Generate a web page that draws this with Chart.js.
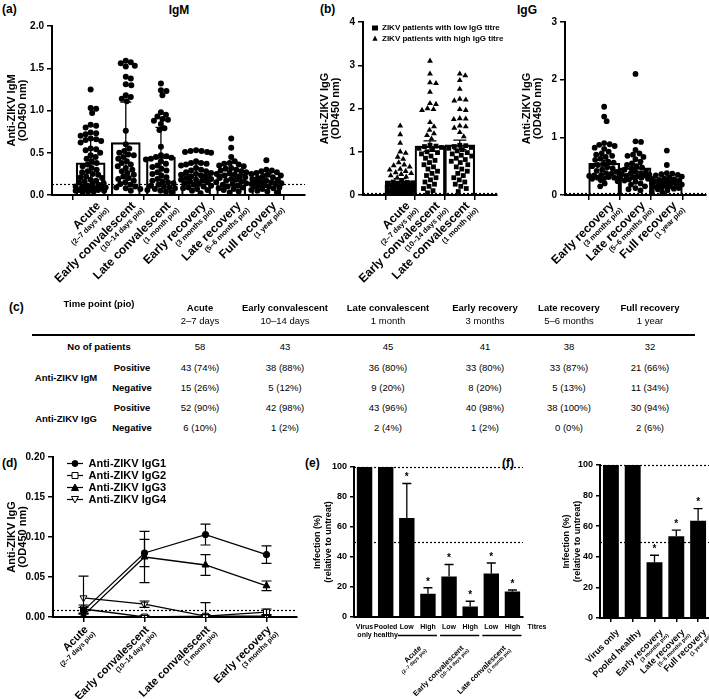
<!DOCTYPE html>
<html><head><meta charset="utf-8">
<script src="https://cdn.jsdelivr.net/npm/chart.js@4.4.1/dist/chart.umd.min.js"></script>
<style>
html,body{margin:0;padding:0;background:#fff}
body{position:relative;width:709px;height:699px;overflow:hidden;font-family:"Liberation Sans",Arial,sans-serif;color:#000}
canvas{position:absolute}
.t{position:absolute;white-space:nowrap;line-height:1}
.b{font-weight:bold}
.c{transform:translate(-50%,-50%)}
</style></head><body>
<div class="t b" style="left:2px;top:3px;font-size:12px">(a)</div>
<div class="t b c" style="left:179px;top:10px;font-size:12px">IgM</div>
<div class="t b" style="left:320px;top:3px;font-size:12px">(b)</div>
<div class="t b c" style="left:527px;top:10px;font-size:12px">IgG</div>
<div class="t b" style="left:9px;top:301px;font-size:12px">(c)</div>
<div class="t b" style="left:2px;top:457px;font-size:12px">(d)</div>
<div class="t b" style="left:305px;top:457px;font-size:12px">(e)</div>
<div class="t b" style="left:502px;top:457px;font-size:12px">(f)</div>
<script>
// ===================== DATA =====================
// (a) IgM
const igmCategories = [['Acute','(2–7 days pio)'],['Early convalescent','(10–14 days pio)'],['Late convalescent','(1 month pio)'],['Early recovery','(3 months pio)'],['Late recovery','(5–6 months pio)'],['Full recovery','(1 year pio)']];
const igmAcute = [1.25,1.03,1.02,0.97,0.83,0.82,0.80,0.74,0.73,0.72,0.70,0.67,0.66,0.65,0.64,0.62,0.55,0.54,0.53,0.50,0.47,0.45,0.43,0.40,0.38,0.36,0.34,0.32,0.30,0.28,0.27,0.25,0.24,0.22,0.21,0.20,0.18,0.17,0.16,0.15,0.14,0.13,0.12,0.11,0.10,0.10,0.09,0.08,0.08,0.07,0.07,0.06,0.06,0.05,0.05,0.04,0.04,0.03];
const igmEarlyConv = [1.59,1.57,1.56,1.53,1.52,1.40,1.38,1.31,1.30,1.18,1.16,1.14,1.11,0.76,0.60,0.55,0.52,0.50,0.48,0.47,0.45,0.43,0.40,0.38,0.36,0.34,0.32,0.30,0.28,0.26,0.24,0.22,0.20,0.19,0.17,0.15,0.13,0.12,0.10,0.09,0.08,0.07,0.05];
const igmLateConv = [1.32,1.24,1.23,1.18,0.98,0.95,0.93,0.90,0.89,0.88,0.84,0.79,0.77,0.57,0.47,0.46,0.45,0.44,0.43,0.42,0.40,0.37,0.35,0.33,0.31,0.29,0.27,0.25,0.23,0.21,0.19,0.17,0.16,0.15,0.14,0.12,0.11,0.10,0.09,0.08,0.07,0.06,0.05,0.04,0.03];
const igmEarlyRec = [0.53,0.52,0.52,0.51,0.51,0.50,0.40,0.38,0.38,0.37,0.36,0.35,0.32,0.30,0.29,0.28,0.27,0.26,0.25,0.24,0.23,0.22,0.21,0.20,0.19,0.18,0.18,0.17,0.16,0.15,0.14,0.13,0.12,0.11,0.10,0.09,0.08,0.07,0.06,0.05,0.02];
const igmLateRec = [0.67,0.56,0.45,0.40,0.38,0.37,0.36,0.35,0.34,0.32,0.31,0.30,0.29,0.28,0.27,0.26,0.25,0.24,0.23,0.22,0.21,0.20,0.19,0.18,0.17,0.16,0.15,0.14,0.13,0.12,0.11,0.10,0.09,0.08,0.07,0.06,0.04,0.03];
const igmFullRec = [0.41,0.30,0.29,0.28,0.27,0.26,0.25,0.24,0.23,0.22,0.21,0.20,0.19,0.18,0.17,0.16,0.15,0.15,0.14,0.13,0.13,0.12,0.11,0.10,0.10,0.09,0.08,0.07,0.06,0.05,0.04,0.03];
const igmMeans = [0.38,0.62,0.45,0.25,0.25,0.17];
const igmSD = [0.28,0.48,0.35,0.12,0.13,0.08];
const igmCutoff = 0.13;

// (b) IgG, early time points (low / high titre)
const iggEarlyCategories = [['Acute','(2–7 days pio)'],['Early convalescent','(10–14 days pio)'],['Late convalescent','(1 month pio)']];
const iggAcuteLow = [0.32,0.30,0.29,0.28,0.27,0.26,0.25,0.24,0.23,0.22,0.21,0.20,0.19,0.18,0.17,0.16,0.15,0.14,0.13,0.12,0.12,0.11,0.10,0.10,0.09,0.09,0.08,0.08,0.07,0.07,0.06,0.06,0.05,0.05,0.04,0.04,0.03,0.02];
const iggAcuteHigh = [1.60,1.40,1.20,1.00,0.97,0.88,0.83,0.75,0.70,0.68,0.65,0.60,0.58,0.55,0.52,0.50,0.48,0.45,0.42,0.40];
const iggEarlyConvLow = [1.15,1.13,1.12,1.10,1.08,1.05,1.00,0.98,0.95,0.90,0.85,0.80,0.75,0.70,0.65,0.60,0.55,0.50,0.45,0.40,0.35,0.30,0.25,0.20,0.15,0.10,0.05];
const iggEarlyConvHigh = [3.10,2.80,2.60,2.58,2.38,2.12,2.10,2.00,1.98,1.96,1.68,1.58,1.50,1.42,1.38,1.30];
const iggLateConvLow = [1.15,1.14,1.12,1.10,1.08,1.05,1.02,0.98,0.95,0.92,0.90,0.85,0.82,0.78,0.75,0.70,0.65,0.60,0.55,0.50,0.45,0.40,0.35,0.30,0.25,0.20,0.15,0.08];
const iggLateConvHigh = [2.80,2.76,2.65,2.45,2.22,2.20,2.18,1.98,1.96,1.77,1.76,1.75,1.60,1.58,1.55,1.45,1.35];
const iggEarlyMeans = [0.33,1.13,1.16];
const iggEarlySEM = [0.05,0.12,0.11];
// (b) IgG, recovery time points
const iggLateCategories = [['Early recovery','(3 months pio)'],['Late recovery','(5–6 months pio)'],['Full recovery','(1 year pio)']];
const iggEarlyRec = [1.53,1.36,1.28,0.90,0.88,0.87,0.85,0.82,0.80,0.75,0.72,0.70,0.68,0.66,0.63,0.61,0.58,0.56,0.54,0.52,0.50,0.48,0.46,0.44,0.42,0.40,0.38,0.37,0.35,0.34,0.33,0.32,0.31,0.30,0.30,0.29,0.28,0.26,0.24,0.20,0.15];
const iggLateRec = [2.10,0.93,0.92,0.78,0.72,0.70,0.68,0.66,0.62,0.58,0.55,0.52,0.50,0.48,0.46,0.44,0.42,0.40,0.38,0.37,0.36,0.35,0.34,0.33,0.32,0.31,0.30,0.29,0.28,0.27,0.25,0.23,0.20,0.18,0.15,0.12,0.10,0.08];
const iggFullRec = [0.77,0.52,0.38,0.37,0.36,0.35,0.34,0.32,0.30,0.29,0.28,0.27,0.26,0.25,0.24,0.23,0.22,0.21,0.20,0.19,0.18,0.17,0.16,0.15,0.14,0.13,0.12,0.11,0.10,0.08,0.06,0.04];
const iggLateMeans = [0.55,0.47,0.23];
const iggLateSEM = [0.05,0.06,0.03];
const iggCutoff = 0.04;

// (c) table
const tableTitle = 'Time point  (pio)';
const tableTimepoints = ['Acute','Early convalescent','Late convalescent','Early recovery','Late recovery','Full recovery'];
const tableDurations = ['2–7 days','10–14 days','1 month','3 months','5–6 months','1 year'];
const tablePatients = ['58','43','45','41','38','32'];
const tableIgmPos = ['43 (74%)','38 (88%)','36 (80%)','33 (80%)','33 (87%)','21 (66%)'];
const tableIgmNeg = ['15 (26%)','5 (12%)','9 (20%)','8 (20%)','5 (13%)','11 (34%)'];
const tableIggPos = ['52 (90%)','42 (98%)','43 (96%)','40 (98%)','38 (100%)','30 (94%)'];
const tableIggNeg = ['6 (10%)','1 (2%)','2 (4%)','1 (2%)','0 (0%)','2 (6%)'];

// (d) IgG subclasses
const subclassCategories = [['Acute','(2–7 days pio)'],['Early convalescent','(10–14 days pio)'],['Late convalescent','(1 month pio)'],['Early recovery','(3 months pio)']];
const igg1Mean = [0.008,0.080,0.103,0.078], igg1Err = [0.004,0.017,0.013,0.011];
const igg2Mean = [0.010,0.000,0.001,0.006], igg2Err = [0.005,0.002,0.002,0.004];
const igg3Mean = [0.002,0.075,0.065,0.039], igg3Err = [0.002,0.032,0.013,0.006];
const igg4Mean = [0.024,0.016,0.001,0.001], igg4Err = [0.027,0.004,0.017,0.002];
const subclassCutoff = 0.0085;

// (e) neutralisation, early
const neutCategories = [['Virus','only'],['Pooled','healthy'],['Low'],['High'],['Low'],['High'],['Low'],['High']];
const neutValues = [100,100,66,15.5,27,7,29,17];
const neutErr = [0,0,23,4,8,3.5,7,1];
const neutStars = [false,false,true,true,true,true,true,true];
const neutGroups = [['Acute','(2–7 days pio)'],['Early convalescent','(10–14 days pio)'],['Late convalescent','(1 month pio)']];
const neutTitreLabel = 'Titres';
// (f) neutralisation, recovery
const recCategories = [['Virus only'],['Pooled healthy'],['Early recovery','(3 months pio)'],['Late recovery','(5–6 months pio)'],['Full recovery','(1 year pio)']];
const recValues = [100,100,36.5,53.5,63.5];
const recErr = [0,0,4.5,4,8];
const recStars = [false,false,true,true,true];
const neutRefLines = [100,50];

// ===================== HELPERS =====================
const FONT = '"Liberation Sans", Arial, Helvetica, sans-serif';
Chart.defaults.font.family = FONT;
Chart.defaults.color = '#000';
let pid = 0;

function mkCanvas(left, top, w, h) {
  const c = document.createElement('canvas');
  c.width = w; c.height = h;
  c.style.cssText = `left:${left}px;top:${top}px;width:${w}px;height:${h}px`;
  document.body.appendChild(c);
  return c;
}
function baseOptions(padTop, padRight, scales, legend) {
  return {
    responsive:false, animation:false, devicePixelRatio:1, events:[],
    layout:{autoPadding:false, padding:{top:padTop, right:padRight, left:0, bottom:0}},
    scales,
    plugins:{legend: legend || {display:false}, tooltip:{enabled:false}}
  };
}
function yAxis(o) {
  return {
    type:'linear', position:'left', min:o.min, max:o.max,
    ticks:{stepSize:o.step, color:'#000', padding:o.tickPad ?? 3, font:{family:FONT, size:o.tickSize || 10, weight:'bold'}, callback:v => o.fmt(v)},
    grid:{drawOnChartArea:false, drawTicks:true, tickLength:o.tickLen || 5, color:'#000', lineWidth:1.5},
    border:{display:true, color:'#000', width:2},
    title:{display:true, text:o.title, color:'#000', font:{family:FONT, size:o.titleSize || 11, weight:'bold', lineHeight:o.titleLH || 1.0}, padding:{top:o.titlePad, bottom:0}},
    afterFit:s => { s.width = o.width; }
  };
}
function xLinear(cats, h) {
  return {
    type:'linear', position:'bottom', min:-0.5, max:cats.length - 0.5,
    afterBuildTicks:s => { s.ticks = cats.map((_, i) => ({value:i})); },
    ticks:{display:false},
    grid:{drawOnChartArea:false, tickLength:5, color:'#000', lineWidth:1.5},
    border:{display:true, color:'#000', width:2},
    afterFit:s => { s.height = h; }
  };
}
function xCat(h, tickLen) {
  return {
    type:'category', offset:true, ticks:{display:false},
    grid:{drawOnChartArea:false, offset:false, drawTicks:tickLen > 0, tickLength:tickLen || 0, color:'#000', lineWidth:1.5},
    border:{display:true, color:'#000', width:2},
    afterFit:s => { s.height = h; }
  };
}
function hLinePlugin(values) {
  return {id:'hline' + (pid++), beforeDatasetsDraw(chart) {
    const {ctx, chartArea:a, scales:{y}} = chart;
    ctx.save(); ctx.setLineDash([2, 2]); ctx.lineWidth = 1.2; ctx.strokeStyle = '#000';
    values.forEach(v => { const py = Math.round(y.getPixelForValue(v)) + 0.5; ctx.beginPath(); ctx.moveTo(a.left, py); ctx.lineTo(a.right, py); ctx.stroke(); });
    ctx.restore();
  }};
}
// series: [{means, errs}] ; opts: {cap, both, width}
function errPlugin(series, opts) {
  return {id:'err' + (pid++), afterDatasetsDraw(chart) {
    const {ctx, scales:{x, y}} = chart;
    ctx.save(); ctx.strokeStyle = '#000'; ctx.lineWidth = opts.width || 1.3;
    const hc = opts.cap / 2;
    series.forEach(s => s.means.forEach((m, i) => {
      const e = s.errs[i]; if (!e) return;
      const px = x.getPixelForValue(i);
      const top = y.getPixelForValue(m + e);
      const loVal = m - e;
      const bot = opts.both ? y.getPixelForValue(Math.max(loVal, y.min)) : y.getPixelForValue(m);
      ctx.beginPath(); ctx.moveTo(px, bot); ctx.lineTo(px, top);
      ctx.moveTo(px - hc, top); ctx.lineTo(px + hc, top);
      if (opts.both && loVal >= y.min) { ctx.moveTo(px - hc, bot); ctx.lineTo(px + hc, bot); }
      ctx.stroke();
    }));
    ctx.restore();
  }};
}
function drawRot(ctx, x, y, lab, o) {
  ctx.save(); ctx.translate(x, y); ctx.rotate(-Math.PI / 4);
  ctx.fillStyle = '#000'; ctx.textAlign = 'right'; ctx.textBaseline = 'middle';
  ctx.font = o.mainFont; ctx.fillText(lab[0], 0, 0);
  if (lab[1]) { ctx.font = o.subFont; ctx.fillText(lab[1], o.sa, o.sd); }
  ctx.restore();
}
function rotLabelPlugin(labels, o) {
  return {id:'rot' + (pid++), afterDraw(chart) {
    const {ctx, chartArea:a, scales:{x}} = chart;
    labels.forEach((lab, i) => drawRot(ctx, x.getPixelForValue(i) + o.dx, a.bottom + o.dy, lab, o));
  }};
}
function starPlugin(means, errs, flags) {
  return {id:'star' + (pid++), afterDatasetsDraw(chart) {
    const {ctx, scales:{x, y}} = chart;
    ctx.save(); ctx.fillStyle = '#000'; ctx.font = 'bold 10px ' + FONT; ctx.textAlign = 'center'; ctx.textBaseline = 'middle';
    flags.forEach((f, i) => { if (f) ctx.fillText('*', x.getPixelForValue(i), y.getPixelForValue(means[i] + errs[i]) - 6); });
    ctx.restore();
  }};
}
function legendPos(x, y) {
  return {id:'lpos' + (pid++), afterLayout(chart) {
    const lg = chart.legend; if (!lg) return;
    lg.left = x; lg.top = y; lg.right = x + 400; lg.bottom = y + 200;
  }};
}
// scatter-dot layout: each point gets the nearest horizontal slot (within maxHalf) that keeps distance D
function beeswarm(pys, D, maxHalf) {
  const order = pys.map((p, i) => i).sort((a, b) => pys[a] - pys[b]);
  const slots = [0];
  for (let g = 0.5; g <= maxHalf; g += 0.5) slots.push(g, -g);
  const placed = []; const out = new Array(pys.length);
  order.forEach(i => {
    const py = pys[i];
    const near = placed.filter(q => Math.abs(q.py - py) < D);
    let best = 0, bestD = -1;
    for (const c of slots) {
      let md = Infinity;
      near.forEach(q => { const d = Math.hypot(c - q.x, q.py - py); if (d < md) md = d; });
      if (md >= D) { best = c; break; }
      if (md > bestD) { bestD = md; best = c; }
    }
    placed.push({x:best, py}); out[i] = best;
  });
  return out;
}
// groupsPerDs[j][g] = values of dataset dsIdx[j] in category g
function swarm(chart, dsIdx, groupsPerDs, D, maxHalf) {
  const xs = chart.scales.x, ys = chart.scales.y;
  const ppu = xs.getPixelForValue(1) - xs.getPixelForValue(0);
  const outs = dsIdx.map(() => []);
  groupsPerDs[0].forEach((_, g) => {
    const items = [];
    groupsPerDs.forEach((groups, j) => groups[g].forEach(v => items.push({j, v})));
    const offs = beeswarm(items.map(it => ys.getPixelForValue(it.v)), D, maxHalf);
    items.forEach((it, k) => outs[it.j].push({x:g + offs[k] / ppu, y:it.v}));
  });
  dsIdx.forEach((d, j) => { chart.data.datasets[d].data = outs[j]; });
  chart.update('none');
}
const openBar = {backgroundColor:'rgba(255,255,255,0)', borderColor:'#000', borderWidth:1.5};
const dotStyle = {pointBackgroundColor:'#000', backgroundColor:'#000', pointBorderWidth:0, borderWidth:0, borderColor:'#000'};

// ===================== (a) IgM =====================
const chartA = new Chart(mkCanvas(0, 0, 312, 300), {
  type:'bar',
  data:{datasets:[
    {type:'scatter', label:'Anti-ZIKV IgM', data:[], pointRadius:3, pointStyle:'circle', ...dotStyle, order:0},
    {type:'bar', label:'Mean ± SD', data:igmMeans.map((m, i) => ({x:i, y:m})), barThickness:29, ...openBar, order:1}
  ]},
  options:baseOptions(26, 7, {
    x:xLinear(igmCategories, 105),
    y:yAxis({min:0, max:2, step:0.5, fmt:v => v.toFixed(1), width:52, title:['Anti-ZIKV IgM', '(OD450 nm)'], titlePad:6.5})
  }),
  plugins:[hLinePlugin([igmCutoff]), errPlugin([{means:igmMeans, errs:igmSD}], {cap:11, both:true}),
    rotLabelPlugin(igmCategories, {dx:8, dy:9, mainFont:'bold 12px ' + FONT, subFont:'bold 7.5px ' + FONT, sa:3, sd:10})]
});
swarm(chartA, [0], [[igmAcute, igmEarlyConv, igmLateConv, igmEarlyRec, igmLateRec, igmFullRec]], 5.2, 15);

// ===================== (b) IgG early =====================
const chartB1 = new Chart(mkCanvas(312, 0, 198, 300), {
  type:'bar',
  data:{datasets:[
    {type:'scatter', label:'ZIKV patients with low IgG titre', data:[], pointRadius:3.4, pointStyle:'rect', ...dotStyle, order:0},
    {type:'scatter', label:'ZIKV patients with high IgG titre', data:[], pointRadius:3.4, pointStyle:'triangle', ...dotStyle, order:0},
    {type:'bar', label:'Mean ± SEM', data:iggEarlyMeans.map((m, i) => ({x:i, y:m})), barThickness:30, ...openBar, order:1}
  ]},
  options:baseOptions(22, 13, {
    x:xLinear(iggEarlyCategories, 105),
    y:yAxis({min:0, max:4, step:1, fmt:v => String(Math.round(v)), width:51, title:['Anti-ZIKV IgG', '(OD450 nm)'], titlePad:7.5})
  }, {display:true, position:'chartArea', align:'start', labels:{usePointStyle:true, pointStyleWidth:6, boxHeight:5, padding:3, color:'#000', font:{family:FONT, size:8, weight:'bold'}, filter:it => it.datasetIndex < 2}}),
  plugins:[legendPos(57, 21), hLinePlugin([iggCutoff]), errPlugin([{means:iggEarlyMeans, errs:iggEarlySEM}], {cap:13, both:true}),
    rotLabelPlugin(iggEarlyCategories, {dx:8, dy:9, mainFont:'bold 12px ' + FONT, subFont:'bold 7.5px ' + FONT, sa:3, sd:10})]
});
swarm(chartB1, [0, 1], [[iggAcuteLow, iggEarlyConvLow, iggLateConvLow], [iggAcuteHigh, iggEarlyConvHigh, iggLateConvHigh]], 5.6, 13);

// ===================== (b) IgG recovery =====================
const chartB2 = new Chart(mkCanvas(510, 0, 199, 300), {
  type:'bar',
  data:{datasets:[
    {type:'scatter', label:'Anti-ZIKV IgG', data:[], pointRadius:2.9, pointStyle:'circle', ...dotStyle, order:0},
    {type:'bar', label:'Mean ± SEM', data:iggLateMeans.map((m, i) => ({x:i, y:m})), barThickness:31, ...openBar, order:1}
  ]},
  options:baseOptions(22, 3, {
    x:xLinear(iggLateCategories, 105),
    y:yAxis({min:0, max:3, step:1, fmt:v => String(Math.round(v)), width:55, title:['Anti-ZIKV IgG', '(OD450 nm)'], titlePad:11.5})
  }),
  plugins:[hLinePlugin([iggCutoff]), errPlugin([{means:iggLateMeans, errs:iggLateSEM}], {cap:13, both:true}),
    rotLabelPlugin(iggLateCategories, {dx:8, dy:9, mainFont:'bold 12px ' + FONT, subFont:'bold 7.5px ' + FONT, sa:3, sd:10})]
});
swarm(chartB2, [0], [[iggEarlyRec, iggLateRec, iggFullRec]], 5.2, 15);

// ===================== (c) table =====================
const tableColX = [200, 285, 388, 485, 569, 650];
function txt(s, x, y, size, bold) {
  const d = document.createElement('div');
  d.className = 't c' + (bold ? ' b' : '');
  d.style.left = x + 'px'; d.style.top = y + 'px'; d.style.fontSize = size + 'px';
  d.textContent = s; document.body.appendChild(d);
}
txt(tableTitle, 99, 304, 9.5, true);
tableTimepoints.forEach((t, i) => { txt(t, tableColX[i], 308, 9.5, true); txt(tableDurations[i], tableColX[i], 321, 9.5, false); });
const rule = document.createElement('div');
rule.style.cssText = 'position:absolute;left:32px;top:334px;width:663px;height:2px;background:#000';
document.body.appendChild(rule);
txt('No of patients', 99, 347, 9.5, true);
txt('Anti-ZIKV IgM', 66, 378, 9.5, true);
txt('Anti-ZIKV IgG', 66, 419, 9.5, true);
[['Positive', 368], ['Negative', 388], ['Positive', 408], ['Negative', 428]].forEach(r => txt(r[0], 132, r[1], 9.5, true));
[[tablePatients, 347], [tableIgmPos, 368], [tableIgmNeg, 388], [tableIggPos, 408], [tableIggNeg, 428]].forEach(r => r[0].forEach((v, i) => txt(v, tableColX[i], r[1], 9.5, false)));

// ===================== (d) IgG subclasses =====================
function legendGlyph(kind, filled) {
  const c = document.createElement('canvas'); c.width = 16; c.height = 9;
  const g = c.getContext('2d');
  g.strokeStyle = '#000'; g.lineWidth = 1.2; g.beginPath(); g.moveTo(0, 4.5); g.lineTo(16, 4.5); g.stroke();
  g.fillStyle = filled ? '#000' : '#fff'; g.lineWidth = 1; g.beginPath();
  if (kind === 'circle') g.arc(8, 4.5, 3, 0, 2 * Math.PI);
  else if (kind === 'rect') g.rect(5, 1.5, 6, 6);
  else if (kind === 'tri') { g.moveTo(8, 1); g.lineTo(11.5, 7.5); g.lineTo(4.5, 7.5); g.closePath(); }
  else { g.moveTo(8, 8); g.lineTo(11.5, 1.5); g.lineTo(4.5, 1.5); g.closePath(); }
  g.fill(); g.stroke();
  return c;
}
const glyphs = [legendGlyph('circle', true), legendGlyph('rect', false), legendGlyph('tri', true), legendGlyph('itri', false)];
const lineDs = (label, data, style, fill, r, rot) => ({type:'line', label, data, borderColor:'#000', borderWidth:1.3, pointStyle:style, pointRadius:r, pointRotation:rot || 0,
  pointBackgroundColor:fill, pointBorderColor:'#000', pointBorderWidth:1, backgroundColor:fill, tension:0, fill:false});
new Chart(mkCanvas(0, 440, 300, 259), {
  type:'line',
  data:{labels:subclassCategories, datasets:[
    lineDs('Anti-ZIKV IgG1', igg1Mean, 'circle', '#000', 3.2),
    lineDs('Anti-ZIKV IgG2', igg2Mean, 'rect', '#fff', 4.2),
    lineDs('Anti-ZIKV IgG3', igg3Mean, 'triangle', '#000', 4),
    lineDs('Anti-ZIKV IgG4', igg4Mean, 'triangle', '#fff', 4, 180)
  ]},
  options:baseOptions(17, 3, {
    x:xCat(82, 5),
    y:yAxis({min:0, max:0.2, step:0.05, fmt:v => v.toFixed(2), width:53, title:['Anti-ZIKV IgG', '(OD450 nm)'], titlePad:6.5})
  }, {display:true, position:'chartArea', align:'start', labels:{usePointStyle:true, pointStyleWidth:16, boxHeight:9, padding:1, color:'#000', font:{family:FONT, size:11, weight:'bold'},
      generateLabels:chart => Chart.defaults.plugins.legend.labels.generateLabels(chart).map((it, i) => Object.assign(it, {pointStyle:glyphs[i], rotation:0}))}}),
  plugins:[legendPos(66, 17), hLinePlugin([subclassCutoff]),
    errPlugin([{means:igg1Mean, errs:igg1Err}, {means:igg2Mean, errs:igg2Err}, {means:igg3Mean, errs:igg3Err}, {means:igg4Mean, errs:igg4Err}], {cap:10, both:true, width:1.2}),
    rotLabelPlugin(subclassCategories, {dx:3, dy:11, mainFont:'bold 11px ' + FONT, subFont:'bold 7px ' + FONT, sa:2, sd:9})]
});

// ===================== (e) neutralisation early =====================
const eLabels = {id:'elab', afterDraw(chart) {
  const {ctx, chartArea:a, scales:{x}} = chart;
  ctx.save(); ctx.fillStyle = '#000'; ctx.strokeStyle = '#000'; ctx.textAlign = 'center'; ctx.textBaseline = 'middle';
  ctx.font = 'bold 7px ' + FONT;
  neutCategories.forEach((lab, i) => lab.forEach((t, k) => ctx.fillText(t, x.getPixelForValue(i), a.bottom + 10 + k * 8)));
  ctx.fillText(neutTitreLabel, a.right + 14, a.bottom + 10);
  ctx.lineWidth = 1.3;
  neutGroups.forEach((g, gi) => {
    const x0 = x.getPixelForValue(2 + gi * 2) - 9, x1 = x.getPixelForValue(3 + gi * 2) + 9;
    ctx.beginPath(); ctx.moveTo(x0, a.bottom + 18.5); ctx.lineTo(x1, a.bottom + 18.5); ctx.stroke();
    drawRot(ctx, (x0 + x1) / 2 + 3, a.bottom + 30, g, {mainFont:'bold 7.5px ' + FONT, subFont:'bold 5px ' + FONT, sa:2, sd:6});
  });
  ctx.restore();
}};
new Chart(mkCanvas(300, 440, 250, 259), {
  type:'bar',
  data:{labels:neutCategories, datasets:[{label:'Infection (%)', data:neutValues, backgroundColor:'#000', borderWidth:0, barPercentage:0.73, categoryPercentage:1}]},
  options:baseOptions(27, 27, {
    x:xCat(82, 0),
    y:yAxis({min:0, max:100, step:20, fmt:v => String(v), width:54, title:['Infection (%)', '(relative to untreat)'], titlePad:12, titleSize:9, titleLH:1.22, tickSize:9, tickLen:4})
  }),
  plugins:[hLinePlugin(neutRefLines), errPlugin([{means:neutValues, errs:neutErr}], {cap:9, both:false}), starPlugin(neutValues, neutErr, neutStars), eLabels]
});

// ===================== (f) neutralisation recovery =====================
new Chart(mkCanvas(550, 440, 159, 259), {
  type:'bar',
  data:{labels:recCategories, datasets:[{label:'Infection (%)', data:recValues, backgroundColor:'#000', borderWidth:0, barPercentage:0.73, categoryPercentage:1}]},
  options:baseOptions(25, 0, {
    x:xCat(81, 4),
    y:yAxis({min:0, max:100, step:20, fmt:v => String(v), width:50, title:['Infection (%)', '(relative to untreat)'], titlePad:11, titleSize:9, titleLH:1.22, tickSize:9, tickLen:4})
  }),
  plugins:[hLinePlugin(neutRefLines), errPlugin([{means:recValues, errs:recErr}], {cap:9, both:false}), starPlugin(recValues, recErr, recStars),
    rotLabelPlugin(recCategories, {dx:7, dy:13, mainFont:'bold 9px ' + FONT, subFont:'bold 5.5px ' + FONT, sa:2, sd:7})]
});
</script>
</body></html>
